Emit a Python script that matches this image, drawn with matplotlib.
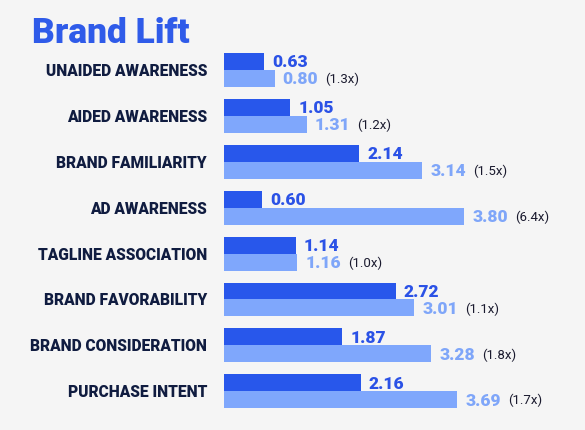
import matplotlib
matplotlib.use("Agg")
import matplotlib.pyplot as plt

categories = ["UNAIDED AWARENESS", "AIDED AWARENESS", "BRAND FAMILIARITY",
              "AD AWARENESS", "TAGLINE ASSOCIATION", "BRAND FAVORABILITY",
              "BRAND CONSIDERATION", "PURCHASE INTENT"]
control = [0.63, 1.05, 2.14, 0.60, 1.14, 2.72, 1.87, 2.16]
exposed = [0.80, 1.31, 3.14, 3.80, 1.16, 3.01, 3.28, 3.69]
lift_labels = ["(1.3x)", "(1.2x)", "(1.5x)", "(6.4x)", "(1.0x)", "(1.1x)", "(1.8x)", "(1.7x)"]

BG = "#f5f5f5"
DARK = "#2857eb"
LIGHT = "#7fa7fc"
NAVY = "#101c40"

W, H = 585, 431
fig = plt.figure(figsize=(W / 100, H / 100), dpi=100, facecolor=BG)
plt.rcParams['font.family'] = ['Roboto', 'DejaVu Sans']

# axes spans from bar origin (x=224px) to right edge, whole height
ax = fig.add_axes([224 / W, 0, 1 - 224 / W, 1])
ax.set_facecolor(BG)
px_per_unit = 63.2
ax.set_xlim(0, (W - 224) / px_per_unit)
pitch = 45.9
ax.set_ylim((H - 71) / pitch, -71 / pitch)
ax.axis("off")

bh = 17 / pitch
ys = list(range(len(categories)))
ax.barh([y - bh / 2 for y in ys], control, height=bh, color=DARK)
ax.barh([y + bh / 2 for y in ys], exposed, height=bh, color=LIGHT)

off = 8 / px_per_unit
for y, c, e, lab, name in zip(ys, control, exposed, lift_labels, categories):
    ax.text(c + off, y - bh / 2, f"{c:.2f}", color="#2b52e6", fontsize=12.5,
            fontweight="heavy", va="center", ha="left")
    t = ax.text(e + off, y + bh / 2, f"{e:.2f}", color="#7fa6f9", fontsize=12.5,
                fontweight="heavy", va="center", ha="left")
    ax.annotate(lab, xy=(1, 0.5), xycoords=t, xytext=(5, 0),
                textcoords="offset points", va="center", ha="left",
                fontsize=9.5, color="#1a1a2e")
    ax.text(-17 / px_per_unit, y, name, color=NAVY, fontsize=11.2,
            fontweight="heavy", va="center", ha="right")

fig.text(32 / W, 1 - 43 / H, "Brand Lift", color="#2f5be9", fontsize=25.5,
         fontweight="heavy", ha="left", va="baseline")

fig.savefig("out.png", dpi=100, facecolor=BG)
